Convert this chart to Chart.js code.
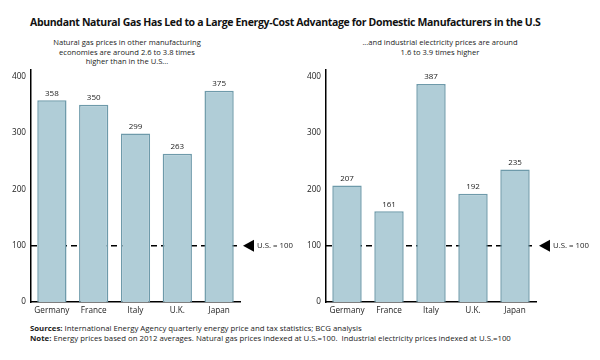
<!DOCTYPE html>
<html>
<head>
<meta charset="utf-8">
<script src="https://cdn.jsdelivr.net/npm/chart.js@4"></script>
<style>
  body { margin: 0; background: #fff; font-family: "Open Sans", sans-serif; color: #111; }
  #page { position: relative; width: 600px; height: 360px; overflow: hidden; }
  .abs { position: absolute; }
  #title { left: 30px; top: 15px; font-size: 10.5px; font-weight: bold; white-space: nowrap; letter-spacing: -0.33px; }
  .sub { font-size: 7.6px; line-height: 9.6px; text-align: center; width: 240px; color: #222; }
  #sub1 { left: 7px; top: 38px; }
  #sub2 { left: 320px; top: 38px; }
  .foot { left: 30px; font-size: 7.8px; white-space: nowrap; color: #222; }
  #foot1 { top: 323px; }
  #foot2 { top: 332.5px; }
  canvas { position: absolute; }
</style>
</head>
<body>
<div id="page">
  <div id="title" class="abs">Abundant Natural Gas Has Led to a Large Energy-Cost Advantage for Domestic Manufacturers in the U.S</div>
  <div id="sub1" class="abs sub">Natural gas prices in other manufacturing<br>economies are around 2.6 to 3.8 times<br>higher than in the U.S...</div>
  <div id="sub2" class="abs sub">...and industrial electricity prices are around<br>1.6 to 3.9 times higher</div>
  <canvas id="gasChart" width="300" height="260" style="left:0;top:60px"></canvas>
  <canvas id="elecChart" width="300" height="260" style="left:300px;top:60px"></canvas>
  <div id="foot1" class="abs foot"><b>Sources:</b> International Energy Agency quarterly energy price and tax statistics; BCG analysis</div>
  <div id="foot2" class="abs foot"><b>Note:</b> Energy prices based on 2012 averages. Natural gas prices indexed at U.S.=100.&nbsp; Industrial electricity prices indexed at U.S.=100</div>
</div>
<script>
// Данные
const countries = ['Germany', 'France', 'Italy', 'U.K.', 'Japan'];
const gasPrices = [358, 350, 299, 263, 375];
const electricityPrices = [207, 161, 387, 192, 235];
const yTicks = [0, 100, 200, 300, 400];
const usIndex = 100;
const usLabel = 'U.S. = 100';

const FONT = '"Open Sans", sans-serif';

// Пунктир U.S. = 100, стрелка и подписи над столбцами
const usLinePlugin = {
  id: 'usLine',
  beforeDatasetsDraw(chart) {
    const { ctx, chartArea, scales } = chart;
    const y = scales.y.getPixelForValue(usIndex);
    ctx.save();
    ctx.strokeStyle = '#000';
    ctx.lineWidth = 1.5;
    ctx.setLineDash([6, 4]);
    ctx.beginPath();
    ctx.moveTo(chartArea.left, y);
    ctx.lineTo(chartArea.right, y);
    ctx.stroke();
    ctx.setLineDash([]);
    // стрелка
    const x0 = chartArea.right + 3;
    ctx.fillStyle = '#000';
    ctx.beginPath();
    ctx.moveTo(x0, y);
    ctx.lineTo(x0 + 11, y - 6);
    ctx.lineTo(x0 + 11, y + 6);
    ctx.closePath();
    ctx.fill();
    ctx.font = '7.8px ' + FONT;
    ctx.fillStyle = '#222';
    ctx.textBaseline = 'middle';
    ctx.textAlign = 'left';
    ctx.fillText(usLabel, x0 + 14, y + 0.5);
    ctx.restore();
  },
  afterDatasetsDraw(chart) {
    const { ctx } = chart;
    const meta = chart.getDatasetMeta(0);
    const values = chart.data.datasets[0].data;
    ctx.save();
    ctx.font = '8px ' + FONT;
    ctx.fillStyle = '#222';
    ctx.textAlign = 'center';
    ctx.textBaseline = 'bottom';
    meta.data.forEach((bar, i) => {
      ctx.fillText(values[i], bar.x, bar.y - 3);
    });
    ctx.restore();
  }
};

function makeChart(id, values, axisWidth, padRight) {
  return new Chart(document.getElementById(id), {
    type: 'bar',
    data: {
      labels: countries,
      datasets: [{
        data: values,
        backgroundColor: '#b0cdd7',
        borderColor: '#6e9aaa',
        borderWidth: 1.5,
        barPercentage: 0.7,
        categoryPercentage: 1
      }]
    },
    options: {
      responsive: false,
      animation: false,
      layout: { padding: { top: 8, right: padRight, left: 0, bottom: 0 } },
      plugins: {
        legend: { display: false },
        tooltip: { enabled: false }
      },
      scales: {
        x: {
          grid: { display: false, drawTicks: false },
          border: { display: true, color: '#000', width: 1.5 },
          ticks: { color: '#222', font: { family: FONT, size: 8.2 }, padding: 4, maxRotation: 0 },
          afterFit: (scale) => { scale.height = 18; }
        },
        y: {
          min: 0,
          max: 412,
          grid: { display: false, drawTicks: false },
          border: { display: true, color: '#000', width: 1.5 },
          ticks: { color: '#222', font: { family: FONT, size: 8.2 }, padding: 5 },
          afterBuildTicks: (axis) => { axis.ticks = yTicks.map(v => ({ value: v })); },
          afterFit: (scale) => { scale.width = axisWidth; }
        }
      }
    },
    plugins: [usLinePlugin]
  });
}

makeChart('gasChart', gasPrices, 31, 60);
makeChart('elecChart', electricityPrices, 26, 64);
</script>
</body>
</html>
